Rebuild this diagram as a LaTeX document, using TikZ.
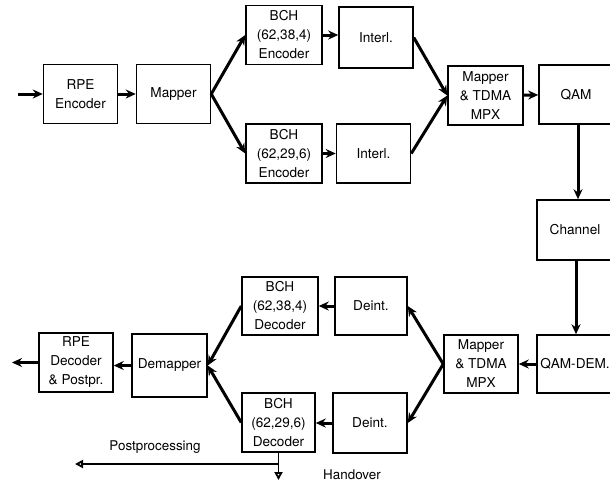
\documentclass[tikz,border=0pt]{standalone}
\usepackage{fontspec}
\setmainfont{TeX Gyre Heros}
\usepackage{tikz}
\usetikzlibrary{positioning, arrows.meta}

\begin{document}
\begin{tikzpicture}[
    x=1pt, y=-1pt,
    block/.style={rectangle, draw, line width=1.5pt, minimum width=74pt, minimum height=59pt, inner sep=1pt, align=center, font=\fontsize{13.6}{19}\selectfont},
    arrow/.style={-{Stealth[length=10pt, width=9pt]}, line width=3pt},
    hollow/.style={-{Triangle[open, length=8pt, width=8pt]}, line width=1.8pt},
    label/.style={font=\fontsize{13.4}{16}\selectfont}
]
\clip (0,0) rectangle (610,485);

% transmitter
\node[block] (rpeenc) at (80.5, 94) {RPE\\Encoder};
\node[block] (mapper) at (173.5, 94) {Mapper};
\node[block, minimum width=76pt] (bchA) at (284, 35) {BCH\\(62,38,4)\\Encoder};
\node[block, minimum width=76pt] (bchB) at (284, 153.5) {BCH\\(62,29,6)\\Encoder};
\node[block, minimum height=61pt] (interlA) at (376, 37.5) {Interl.};
\node[block] (interlB) at (373.5, 153.5) {Interl.};
\node[block, minimum width=75pt] (mpxA) at (485.5, 95.5) {Mapper\\\&~TDMA\\MPX};
\node[block] (qam) at (576, 94.5) {QAM};

% channel
\node[block, minimum width=76pt, minimum height=60pt] (channel) at (575, 230) {Channel};

% receiver
\node[block, minimum width=76pt, minimum height=58pt] (qamdem) at (575, 364) {QAM-DEM.};
\node[block, minimum height=58pt] (mpxB) at (481, 364) {Mapper\\\&~TDMA\\MPX};
\node[block, minimum width=72pt, minimum height=58pt] (deintA) at (371, 306) {Deint.};
\node[block, minimum height=60pt] (deintB) at (370, 423) {Deint.};
\node[block, minimum width=76pt, minimum height=58pt] (bchC) at (280, 306) {BCH\\(62,38,4)\\Decoder};
\node[block, minimum width=73pt] (bchD) at (278.5, 422.5) {BCH\\(62,29,6)\\Decoder};
\node[block, minimum width=75pt, minimum height=63pt] (demapper) at (169.5, 365.5) {Demapper};
\node[block] (rpedec) at (76, 362.5) {RPE\\Decoder\\\&~Postpr.};

\coordinate (in) at (18, 94);
\coordinate (out) at (12, 362.5);

\draw[arrow] (in) -- (rpeenc);
\draw[arrow] (rpeenc) -- (mapper);
\draw[arrow] (mapper.east) -- (bchA.west);
\draw[arrow] (mapper.east) -- (bchB.west);
\draw[arrow] (bchA) -- (bchA -| interlA.west);
\draw[arrow] (bchB) -- (interlB);
\draw[arrow] (interlA.east) -- (mpxA.west);
\draw[arrow] (interlB.east) -- (mpxA.west);
\draw[arrow] (mpxA) -- (qam);
\draw[arrow] ([xshift=2pt]qam.south) -- ([xshift=2pt]qam.south |- channel.north);
\draw[arrow] ([xshift=1pt]channel.south) -- ([xshift=1pt]channel.south |- qamdem.north);
\draw[arrow] (qamdem) -- (mpxB);
\draw[arrow] (mpxB.west) -- (deintA.east);
\draw[arrow] (mpxB.west) -- (deintB.east);
\draw[arrow] (deintA) -- (bchC);
\draw[arrow] (deintB) -- (deintB -| bchD.east);
\draw[arrow] (bchC.west) -- (demapper.east);
\draw[arrow] (bchD.west) -- (demapper.east);
\draw[arrow] (demapper) -- (demapper -| rpedec.east);
\draw[arrow] (rpedec) -- (out);

% postprocessing / handover
\coordinate (junc) at (bchD.south |- 0, 464);
\coordinate (postend) at (75, 464);
\coordinate (handend) at (bchD.south |- 0, 480);
\draw[hollow] (junc) -- (postend);
\draw[hollow] (bchD.south) -- (handend);
\node[label] (post) at (155, 447) {Postprocessing};
\node[label] (hand) at (352, 475) {Handover};

\end{tikzpicture}
\end{document}
